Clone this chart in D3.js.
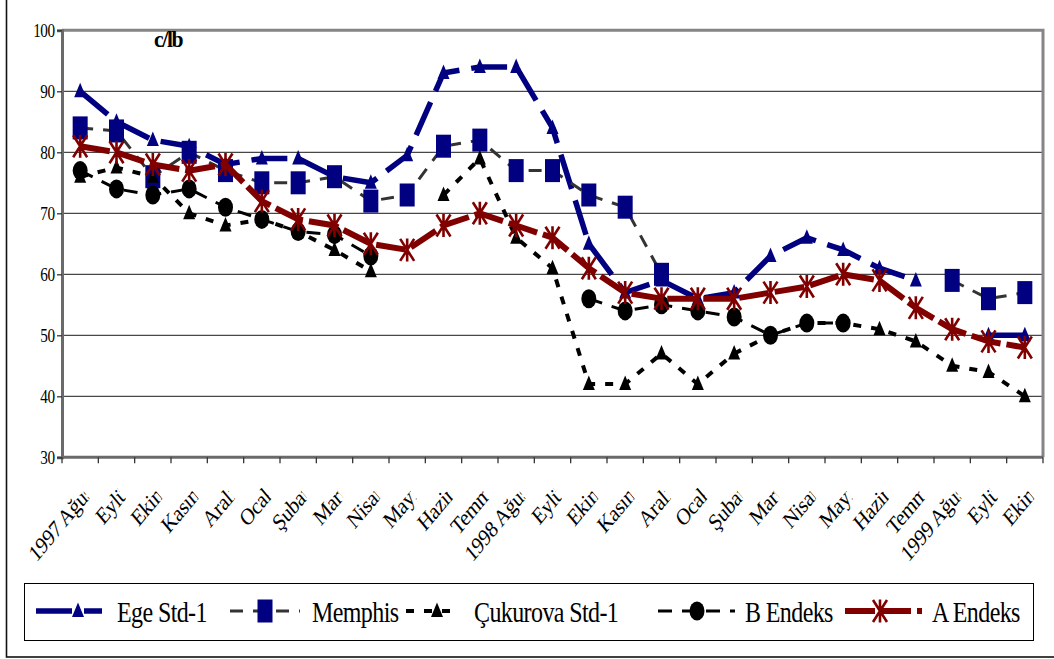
<!DOCTYPE html>
<html><head><meta charset="utf-8">
<script src="https://cdn.jsdelivr.net/npm/d3@7"></script>
<style>body{margin:0;background:#fff}svg{display:block}
svg text{font-family:"Liberation Serif","Times New Roman","DejaVu Serif",serif}</style>
</head><body><svg id="c" width="1054" height="659"></svg>
<script>
// ---- data ----
const categories = ["1997 Ağustos","Eylül","Ekim","Kasım","Aralık","Ocak","Şubat","Mart","Nisan","Mayıs","Haziran","Temmuz",
  "1998 Ağustos","Eylül","Ekim","Kasım","Aralık","Ocak","Şubat","Mart","Nisan","Mayıs","Haziran","Temmuz",
  "1999 Ağustos","Eylül","Ekim"];
const yTicks = [30,40,50,60,70,80,90,100];
const seriesNames = ["Ege Std-1","Memphis","Çukurova Std-1","B Endeks","A Endeks"];
const egeStd1 = [90,85,82,81,78,79,79,76,75,79.5,93,94,94,84,65,57,59,56,57,63,66,64,61,59,null,50,50];
const memphis = [84,83.5,76,80,77,75,75,76,72,73,81,82,77,77,73,71,60,null,null,null,null,null,null,null,59,56,57];
const cukurova = [76,77.5,76,70,68,69,67,64,60.5,null,73,79,66,61,42,42,47,42,47,50,52,52,51,49,45,44,40];
const bEndeks = [77,74,73,74,71,69,67,66.5,63,null,null,null,null,null,56,54,55,54,53,50,52,52,null,null,null,null,null];
const aEndeks = [81,80,78,77,78,72,69,68,65,64,68,70,68,66,61,57,56,56,56,57,58,60,59,54.5,51,49,48];
const unitLabel = "c/lb";
// visible part of each (clipped) category label, in characters
const labelVisible = [8.2,3.6,3.5,4.5,4.3,3.4,4.3,3.2,4.2,3.3,4.6,3.7,8.2,3.6,3.5,4.5,4.3,3.4,4.3,3.2,4.2,3.3,4.6,3.7,8.2,3.6,3.5];

// ---- layout ----
const svg = d3.select("#c");
const L = 62, R = 1043, T = 30.3, B = 457.3;
const x = d3.scaleBand().domain(d3.range(categories.length)).range([L, R]).paddingInner(0).paddingOuter(0);
const bw = x.bandwidth();
const cx = i => x(i) + bw / 2;
const y = d3.scaleLinear().domain([30, 100]).range([B, T]);

// outer frame
svg.append("rect").attr("x", 6.5).attr("y", -5).attr("width", 1060).attr("height", 662)
  .attr("fill", "none").attr("stroke", "#111").attr("stroke-width", 1.6);

// gridlines
svg.append("g").selectAll("line").data(yTicks.filter(t => t > 30 && t < 100)).join("line")
  .attr("x1", L).attr("x2", R).attr("y1", d => y(d)).attr("y2", d => y(d))
  .attr("stroke", "#1a1a1a").attr("stroke-width", 1);

// plot border top/right
svg.append("path").attr("d", `M${L},${T}H${R}V${B}`).attr("fill", "none")
  .attr("stroke", "#858585").attr("stroke-width", 3);

// y axis
const yAxis = d3.axisLeft(y).tickValues(yTicks).tickSize(5).tickPadding(3).tickFormat(d3.format("d"));
const gy = svg.append("g").attr("transform", `translate(${L},0)`).call(yAxis);
gy.attr("font-family", null);
gy.select(".domain").attr("stroke", "#6a6a6a").attr("stroke-width", 3);
gy.selectAll(".tick line").attr("stroke", "#333").attr("stroke-width", 1.3);
gy.selectAll(".tick text").attr("font-size", 19).attr("transform", "scale(0.8,1)")
  .attr("x", -7.5 / 0.8).attr("letter-spacing", "-0.6px").attr("fill", "#000").attr("dy", "0.34em");

// x axis (ticks between categories)
const gx = svg.append("g");
gx.append("line").attr("x1", L).attr("x2", R).attr("y1", B).attr("y2", B)
  .attr("stroke", "#6a6a6a").attr("stroke-width", 3);
const bounds = d3.range(categories.length).map(i => x(i)).concat([x.range()[1]]);
gx.selectAll("line.tk").data(bounds).join("line").attr("class", "tk")
  .attr("x1", d => d).attr("x2", d => d).attr("y1", B).attr("y2", B + 6)
  .attr("stroke", "#333").attr("stroke-width", 1.3);

// clipped rotated labels (vertically stretched like the reference)
const defs = svg.append("defs");
defs.append("clipPath").attr("id", "lblclip").attr("clipPathUnits", "userSpaceOnUse")
  .append("rect").attr("x", -300).attr("y", -30).attr("width", 300).attr("height", 60);
const lg = gx.selectAll("g.lbl").data(categories).join("g").attr("class", "lbl")
  .attr("transform", (d, i) => `translate(${cx(i) + 5},${B + 36}) scale(1,1.2) rotate(-45)`)
  .attr("clip-path", "url(#lblclip)");
lg.append("text").text(d => d)
  .attr("font-size", 19.5)
  .attr("letter-spacing", "-0.3px").attr("dy", "0.33em").attr("fill", "#000")
  .each(function(d, i) {
    const v = labelVisible[i];
    const k = Math.floor(v), f = v - k;
    let w = k > 0 ? this.getSubStringLength(0, k) : 0;
    if (f > 0 && k < d.length) w += f * this.getSubStringLength(k, 1);
    d3.select(this).attr("x", -w);
  });

// unit label
svg.append("text").attr("transform", "translate(154,47) scale(0.9,1)").text(unitLabel)
  .attr("font-weight", "bold")
  .attr("font-size", 24).attr("letter-spacing", "-1.5px");

// ---- series ----
const markers = {
  tri: (g, c) => g.append("path").attr("d", "M0,-8.5L6,6L-6,6Z").attr("fill", c),
  sq: (g, c) => g.append("rect").attr("x", -7.5).attr("y", -11.5).attr("width", 15).attr("height", 23).attr("fill", c),
  circ: (g, c) => g.append("ellipse").attr("rx", 7.5).attr("ry", 9.5).attr("fill", c),
  star: (g, c) => g.append("path").attr("d", "M-7,-11L7,11M7,-11L-7,11M0,-11.5L0,11.5")
    .attr("fill", "none").attr("stroke", c).attr("stroke-width", 2.6)
};
const series = [
  {data: egeStd1, line: "#000080", w: 5.5, dash: "36,12", mk: "tri", mc: "#000080"},
  {data: memphis, line: "#333333", w: 3, dash: "13,10", mk: "sq", mc: "#000080"},
  {data: cukurova, line: "#000000", w: 4, dash: "8,10", mk: "tri", mc: "#000000"},
  {data: bEndeks, line: "#000000", w: 3, dash: "14,10", mk: "circ", mc: "#000000"},
  {data: aEndeks, line: "#800000", w: 6, dash: "30,6", mk: "star", mc: "#800000"}
];
const lineGen = d3.line().defined(d => d != null).x((d, i) => cx(i)).y(d => y(d));
series.forEach(s => {
  const g = svg.append("g");
  g.append("path").datum(s.data).attr("d", lineGen).attr("fill", "none")
    .attr("stroke", s.line).attr("stroke-width", s.w).attr("stroke-dasharray", s.dash);
  s.data.forEach((v, i) => {
    if (v == null) return;
    const m = g.append("g").attr("transform", `translate(${cx(i)},${y(v)})`);
    markers[s.mk](m, s.mc);
  });
});

// ---- legend ----
svg.append("rect").attr("x", 24.5).attr("y", 583.5).attr("width", 1009).attr("height", 57)
  .attr("fill", "#fff").attr("stroke", "#000").attr("stroke-width", 1);
const legPos = [
  {x1: 36, x2: 102, m: 78, t: 117},
  {x1: 230, x2: 300, m: 265, t: 312},
  {x1: 406, x2: 460, m: 437, t: 474},
  {x1: 658, x2: 735, m: 697, t: 745},
  {x1: 845, x2: 922, m: 880, t: 932}
];
const LY = 611;
seriesNames.forEach((name, k) => {
  const s = series[k], p = legPos[k];
  const g = svg.append("g");
  g.append("line").attr("x1", p.x1).attr("x2", p.x2).attr("y1", LY).attr("y2", LY)
    .attr("stroke", s.line).attr("stroke-width", s.w).attr("stroke-dasharray", s.dash);
  const m = g.append("g").attr("transform", `translate(${p.m},${LY})`);
  markers[s.mk](m, s.mc);
  g.append("text").attr("transform", `translate(${p.t},${LY + 1}) scale(1,1.2)`).attr("dy", "0.33em").text(name)
    .attr("font-size", 24)
    .attr("letter-spacing", "-0.6px").attr("fill", "#000");
});
</script></body></html>
